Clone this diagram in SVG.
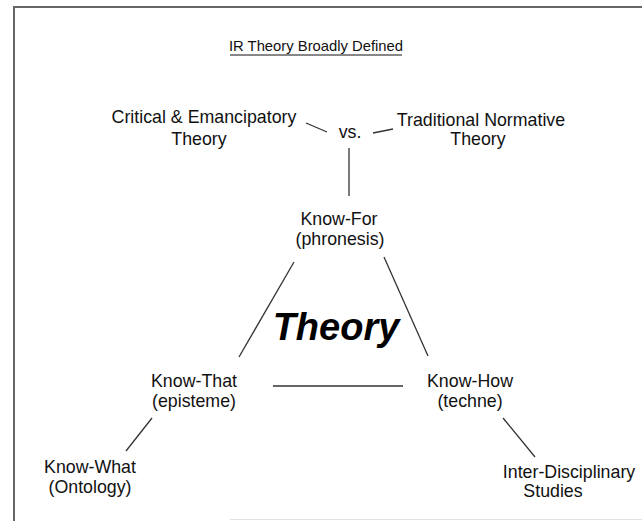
<svg xmlns="http://www.w3.org/2000/svg" width="642" height="521" viewBox="0 0 642 521">
<style>
.t{font-family:"Liberation Sans",Arial,sans-serif;font-size:17.8px;fill:#111;text-anchor:middle}
.title{font-family:"Liberation Sans",Arial,sans-serif;font-size:14.8px;fill:#111;text-anchor:middle}
.big{font-family:"Liberation Sans",Arial,sans-serif;font-size:38px;font-weight:bold;font-style:italic;fill:#000;text-anchor:middle}
.c line{stroke:#333;stroke-width:1.3;fill:none}
</style>
<rect width="642" height="521" fill="#fff"/>
<g id="frame">
<line x1="14" y1="7" x2="642" y2="7" stroke="#666" stroke-width="2"/>
<line x1="14" y1="6" x2="14" y2="521" stroke="#666" stroke-width="2"/>
<line x1="230" y1="519.5" x2="642" y2="519.5" stroke="#e2e2e2" stroke-width="1"/>
</g>
<g id="title">
<text class="title" x="316" y="51">IR Theory Broadly Defined</text>
<line x1="230" y1="55" x2="402" y2="55" stroke="#111" stroke-width="1"/>
</g>
<g class="c" id="connectors">
<line x1="306" y1="123" x2="327" y2="132"/>
<line x1="373" y1="133" x2="393" y2="129"/>
<line x1="349" y1="148" x2="349" y2="196"/>
<line x1="294" y1="262" x2="239" y2="357"/>
<line x1="384" y1="257" x2="428" y2="356"/>
<line x1="273" y1="386" x2="403" y2="386"/>
<line x1="152" y1="418" x2="126" y2="451"/>
<line x1="503" y1="418" x2="535" y2="457"/>
</g>
<g id="critical">
<text class="t" x="204" y="123">Critical &amp; Emancipatory</text>
<text class="t" x="199" y="145">Theory</text>
</g>
<g id="vs"><text class="t" x="350" y="138">vs.</text></g>
<g id="traditional">
<text class="t" x="481" y="126">Traditional Normative</text>
<text class="t" x="478" y="145">Theory</text>
</g>
<g id="knowfor">
<text class="t" x="339" y="225">Know-For</text>
<text class="t" x="340" y="245">(phronesis)</text>
</g>
<g id="theory"><text class="big" x="336" y="340">Theory</text></g>
<g id="knowthat">
<text class="t" x="194" y="387">Know-That</text>
<text class="t" x="194" y="407">(episteme)</text>
</g>
<g id="knowhow">
<text class="t" x="470" y="387">Know-How</text>
<text class="t" x="470" y="407">(techne)</text>
</g>
<g id="knowwhat">
<text class="t" x="90" y="473">Know-What</text>
<text class="t" x="90" y="493">(Ontology)</text>
</g>
<g id="interdisciplinary">
<text class="t" x="569" y="478">Inter-Disciplinary</text>
<text class="t" x="553" y="497">Studies</text>
</g>
</svg>
